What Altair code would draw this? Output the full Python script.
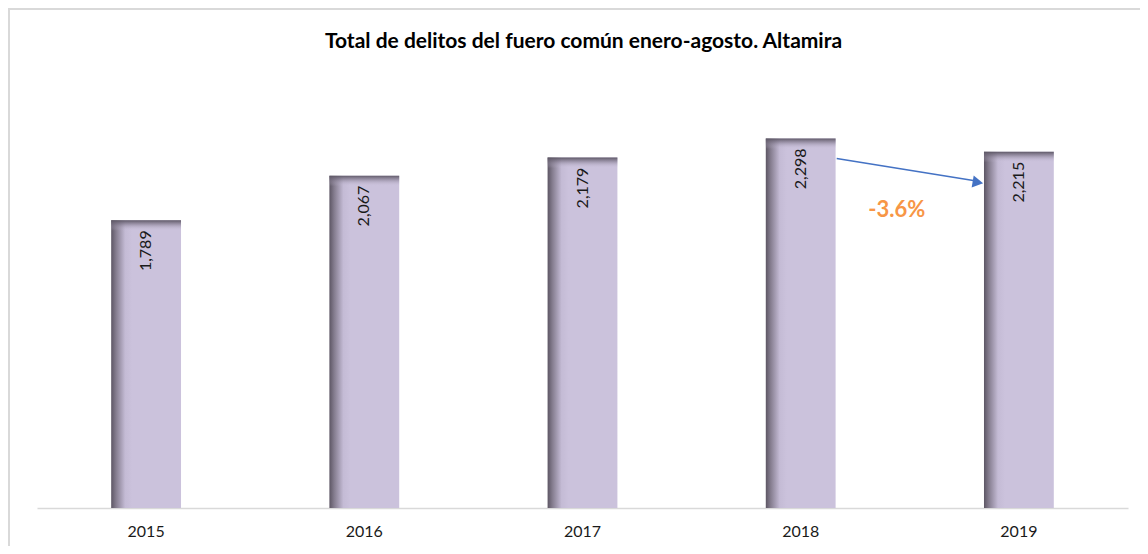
import altair as alt
import pandas as pd

years = ["2015", "2016", "2017", "2018", "2019"]
totals = [1789, 2067, 2179, 2298, 2215]
title_text = "Total de delitos del fuero común enero-agosto. Altamira"

FONT = "Lato"

df = pd.DataFrame({"year": years, "total": totals})
pct = (totals[4] - totals[3]) / totals[3] * 100
arrow_df = pd.DataFrame({
    "from_year": [years[3]], "to_year": [years[4]],
    "from_val": [totals[3]], "to_val": [totals[4]],
    "label": [f"{pct:.1f}%"],
})
title_df = pd.DataFrame({"t": [title_text]})

W, H = 1091, 402

xscale = alt.Scale(domain=years, paddingInner=0.68, paddingOuter=0.34)
yscale = alt.Scale(domain=[0, 2500])
xaxis = alt.Axis(title=None, labelAngle=0, ticks=False, domainColor="#d9d9d9",
                 domainWidth=1.5, labelFont=FONT, labelFontSize=16,
                 labelColor="#1a1a1a", labelPadding=15, grid=False)


def X(field):
    return alt.X(field, type="nominal", scale=xscale, sort=years, axis=xaxis)


def Y(field):
    return alt.Y(field, type="quantitative", scale=yscale, axis=None)


base = alt.Chart(df)

bars = base.mark_bar(
    color=alt.Gradient(
        gradient="linear", x1=0, y1=0, x2=1, y2=0,
        stops=[
            alt.GradientStop(offset=0, color="#5d5664"),
            alt.GradientStop(offset=0.07, color="#857d8f"),
            alt.GradientStop(offset=0.2, color="#c4bbd5"),
            alt.GradientStop(offset=0.3, color="#cbc2dc"),
            alt.GradientStop(offset=1, color="#cbc2dc"),
        ],
    )
).encode(x=X("year"), y=Y("total"))

top_shade = base.transform_calculate(
    top2="datum.total - 65"
).mark_bar(
    color=alt.Gradient(
        gradient="linear", x1=0, y1=0, x2=0, y2=1,
        stops=[
            alt.GradientStop(offset=0, color="rgba(90,84,98,0.95)"),
            alt.GradientStop(offset=0.35, color="rgba(120,112,130,0.6)"),
            alt.GradientStop(offset=1, color="rgba(203,194,220,0)"),
        ],
    )
).encode(x=X("year"), y=Y("total"), y2="top2:Q")

labels = base.mark_text(
    angle=270, align="right", baseline="middle", dx=-10,
    font=FONT, fontSize=16, color="#1a1a1a"
).encode(x=X("year"), y=Y("total"), text=alt.Text("total:Q", format=","))

arrow_base = alt.Chart(arrow_df)
arrow_line = arrow_base.mark_rule(
    color="#4472c4", strokeWidth=1.6, xOffset=36, x2Offset=-44, yOffset=20, y2Offset=29
).encode(
    x=X("from_year"), x2="to_year:N",
    y=Y("from_val"), y2="to_val:Q",
)
arrow_head = arrow_base.mark_point(
    shape="triangle-right", filled=True, color="#4472c4", opacity=1,
    size=150, angle=9.6, xOffset=-41, yOffset=30.5
).encode(x=X("to_year"), y=Y("to_val"))
pct_text = arrow_base.mark_text(
    font=FONT, fontSize=22, fontWeight="bold", color="#f79646",
    xOffset=96, yOffset=72, baseline="middle", align="center"
).encode(x=X("from_year"), y=Y("from_val"), text="label:N")

title = alt.Chart(title_df).mark_text(
    font=FONT, fontSize=21, fontWeight="bold", color="#000000",
    align="center", baseline="middle"
).encode(x=alt.value(546.5), y=alt.value(-64), text="t:N")

border = alt.Chart(pd.DataFrame({"b": [0]})).mark_rect(
    filled=False, stroke="#d9d9d9", strokeWidth=2
).encode(
    x=alt.value(-28), x2=alt.value(W + 60),
    y=alt.value(-97), y2=alt.value(H + 120),
)

chart = alt.layer(
    border, title, bars, top_shade, labels, arrow_line, arrow_head, pct_text
).properties(
    width=W, height=H,
    padding={"left": 29, "right": 12, "top": 98, "bottom": 38},
    autosize=alt.AutoSizeParams(type="none"),
).configure(
    background="white",
    view=alt.ViewConfig(strokeWidth=0, stroke="transparent"),
)

chart.save("out.html", embed_options={"renderer": "svg", "actions": False})
